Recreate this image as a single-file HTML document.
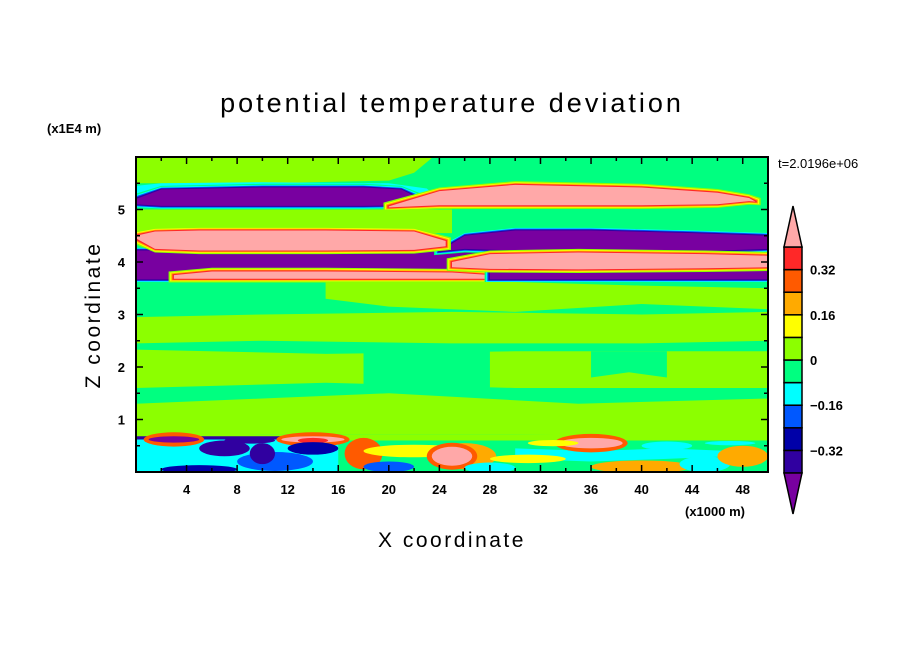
<!DOCTYPE html>
<html><head><meta charset="utf-8"><style>
body{margin:0;background:#fff;}
svg text{font-family:"Liberation Sans",sans-serif;fill:#000;}
</style></head><body>
<svg id="chart" width="904" height="654" viewBox="0 0 904 654" xmlns="http://www.w3.org/2000/svg">
<defs><clipPath id="clip"><rect x="136" y="157" width="632" height="315"/></clipPath></defs>
<text x="452" y="112" font-size="27" text-anchor="middle" letter-spacing="3">potential temperature deviation</text>
<text x="47" y="133" font-size="13" font-weight="bold">(x1E4 m)</text>
<text x="778" y="168" font-size="13">t=2.0196e+06</text>
<text x="685" y="516" font-size="13" font-weight="bold">(x1000 m)</text>
<text x="452" y="547" font-size="21" text-anchor="middle" letter-spacing="2.5">X coordinate</text>
<text transform="translate(100,315) rotate(-90)" font-size="21" text-anchor="middle" letter-spacing="2.5">Z coordinate</text>
<g id="field" clip-path="url(#clip)"></g>
<g id="axes"></g>
<g id="cbar"></g>
</svg>
<script>
// contour levels and colours
const levelBounds=[-0.4,-0.32,-0.24,-0.16,-0.08,0,0.08,0.16,0.24,0.32,0.4];
const levelColors=["#7800a0","#3000a0","#0000a8","#0058ff","#00ffff","#00ff80","#8cff00","#ffff00","#ffaa00","#ff5a00","#ff2828","#ffa8a8"];
const cbarLabels=["0.32","0.16","0","-0.16","-0.32"];
const cbarLabelValues=[0.32,0.16,0,-0.16,-0.32];
const xTicks=[4,8,12,16,20,24,28,32,36,40,44,48];
const yTicks=[1,2,3,4,5];
// horizontal bands: value, x knots, top z, bottom z
const bandValues=[0.04,-0.12,-0.5,0.5,0.04,-0.5,-0.5,-0.5,0.5,0.5,-0.5,0.5,0.04,0.04,0.04,0.04,-0.04,-0.04,0.04,-0.12,-0.12,-0.36];
const bandX=[
[0,10,20,22,23.5],
[0,2,10,20,23,24],
[0,2,10,18,21,22.5],
[20,24,30,40,46,48.5,49],
[0,25,25],
[0,28,28,50,50],
[0,24,27,29],
[24,26,30,36,44,50],
[0,1.5,5,15,22,24.5],
[3,6,15,25,30],
[28,50],
[25,28,35,45,50],
[15,20,30,40,50],
[0,10,25,40,50],
[0,15,30,45,50],
[0,10,20,35,50],
[18,22,28],
[36,39,42],
[0,10,20,30,50],
[0,5,10,16],
[30,36,42,47],
[0,6,12,16]];
const bandTop=[
[6,6,6,6,6],
[5.45,5.5,5.52,5.5,5.4,5.2],
[5.2,5.38,5.42,5.42,5.38,5.2],
[5.06,5.35,5.47,5.42,5.32,5.22,5.15],
[5.0,5.0,4.95],
[4.22,4.22,3.9,3.9,3.9],
[4.22,4.22,4.2,4.1],
[4.2,4.5,4.6,4.6,4.55,4.5],
[4.5,4.58,4.6,4.6,4.58,4.4],
[3.75,3.82,3.82,3.8,3.72],
[3.85,3.85],
[4.0,4.15,4.18,4.15,4.12],
[3.62,3.62,3.62,3.55,3.5],
[2.95,3.0,3.05,3.0,3.05],
[2.33,2.25,2.3,2.3,2.3],
[1.3,1.4,1.5,1.3,1.4],
[2.3,2.3,2.3],
[2.3,2.3,2.3],
[0.75,0.72,0.72,0.72,0.75],
[0.62,0.62,0.62,0.62],
[0.45,0.4,0.45,0.4],
[0.68,0.68,0.68,0.68]];
const bandBot=[
[5.5,5.5,5.55,5.7,6],
[5.05,5.03,5.03,5.03,5.05,5.1],
[5.1,5.07,5.07,5.07,5.08,5.15],
[5.04,5.08,5.08,5.08,5.1,5.16,5.15],
[4.55,4.55,4.6],
[3.67,3.67,3.67,3.67,3.67],
[3.67,3.67,3.67,3.67],
[4.2,4.25,4.22,4.22,4.2,4.25],
[4.45,4.25,4.22,4.22,4.23,4.3],
[3.68,3.68,3.68,3.68,3.68],
[3.67,3.67],
[3.9,3.87,3.86,3.88,3.9],
[3.3,3.15,3.05,3.2,3.1],
[2.45,2.5,2.45,2.45,2.5],
[1.6,1.7,1.6,1.6,1.6],
[0.72,0.72,0.72,0.72,0.72],
[1.5,1.6,1.5],
[1.8,1.9,1.8],
[0.6,0.6,0.6,0.6,0.6],
[0,0,0,0],
[0.25,0.2,0.25,0.3],
[0.62,0.62,0.62,0.62]];
// bottom-layer blobs (centre x, centre z, half widths, value)
const blobX=[3,7,11,5,14,18,22,26,25,31,36,40,40,45,48,9,14,3,28,42,33,20,47,14,10];
const blobZ=[0.3,0.45,0.2,0.05,0.62,0.35,0.4,0.3,0.3,0.25,0.55,0.05,0.1,0.15,0.3,0.6,0.6,0.62,0.08,0.5,0.55,0.1,0.55,0.45,0.35];
const blobRx=[3,2,3,3,2.5,1.5,4,2.5,1.6,3,2.5,2.5,4,2,2,2,1.2,2,2,2,2,2,2,2,1];
const blobRz=[0.2,0.15,0.18,0.08,0.06,0.3,0.12,0.25,0.18,0.08,0.1,0.07,0.12,0.15,0.2,0.06,0.05,0.06,0.1,0.08,0.06,0.1,0.04,0.12,0.2];
const blobV=[-0.12,-0.36,-0.2,-0.28,0.5,0.28,0.12,0.2,0.5,0.12,0.5,0.5,0.2,-0.12,0.2,-0.36,0.36,-0.5,-0.12,-0.12,0.12,-0.2,-0.12,-0.28,-0.36];

const X0=136,X1=768,Y0=157,Y1=472;
const xs=v=>X0+(v/50)*(X1-X0);
const zs=v=>Y1-(v/6)*(Y1-Y0);
const NS="http://www.w3.org/2000/svg";
function colorOf(v){let i=0;while(i<levelBounds.length&&v>=levelBounds[i])i++;return levelColors[i];}
function mk(tag,attrs,parent){const e=document.createElementNS(NS,tag);for(const k in attrs)e.setAttribute(k,attrs[k]);parent.appendChild(e);return e;}
const field=document.getElementById('field');
let bg=mk('rect',{x:X0,y:Y0,width:X1-X0,height:Y1-Y0,fill:colorOf(-0.04)},field);


function bandPath(xk,tp,bt,pad){let d='';const n=xk.length;for(let i=0;i<n;i++)d+=(i?'L':'M')+xs(xk[i]-(i==0?pad*6:0)+(i==n-1?pad*6:0))+','+zs(tp[i]+pad);for(let i=n-1;i>=0;i--)d+='L'+xs(xk[i]-(i==0?pad*6:0)+(i==n-1?pad*6:0))+','+zs(bt[i]-pad);return d+'Z';}
bandValues.forEach((v,b)=>{
  if(Math.abs(v)>=0.4){
    const halo=v>0?[0.04,0.12,0.2,0.36]:[-0.04,-0.12,-0.2,-0.36];
    const pads=[0.07,0.05,0.035,0.02];
    halo.forEach((h,k)=>{const p=mk('path',{d:bandPath(bandX[b],bandTop[b],bandBot[b],pads[k]),fill:colorOf(h)},field);
      
      });
  }
  const p=mk('path',{d:bandPath(bandX[b],bandTop[b],bandBot[b],0),fill:colorOf(v)},field);
  
  
});
blobV.forEach((v,i)=>{
  if(Math.abs(v)>=0.4){const e=mk('ellipse',{cx:xs(blobX[i]),cy:zs(blobZ[i]),rx:xs(blobRx[i])-X0+5,ry:zs(0)-zs(blobRz[i])+4,fill:colorOf(0.3)},field);
    
    }
  const e=mk('ellipse',{cx:xs(blobX[i]),cy:zs(blobZ[i]),rx:xs(blobRx[i])-X0,ry:zs(0)-zs(blobRz[i]),fill:colorOf(v)},field);
  
  
});
let ln=mk('line',{x1:X0,x2:X1,y1:zs(2.36),y2:zs(2.36),stroke:colorOf(-0.04),'stroke-width':2},field);


// axes
const axes=document.getElementById('axes');
let fr=mk('rect',{x:X0,y:Y0,width:X1-X0,height:Y1-Y0,fill:'none',stroke:'#000','stroke-width':2},axes);


for(let v=2;v<50;v+=2){const maj=v%4==0;const L=maj?7:4;
  mk('line',{x1:xs(v),x2:xs(v),y1:Y1,y2:Y1-L,stroke:'#000','stroke-width':1.5},axes);
  mk('line',{x1:xs(v),x2:xs(v),y1:Y0,y2:Y0+L,stroke:'#000','stroke-width':1.5},axes);}
for(let v=0.5;v<6;v+=0.5){const maj=v%1==0;const L=maj?7:4;
  mk('line',{x1:X0,x2:X0+L,y1:zs(v),y2:zs(v),stroke:'#000','stroke-width':1.5},axes);
  mk('line',{x1:X1,x2:X1-L,y1:zs(v),y2:zs(v),stroke:'#000','stroke-width':1.5},axes);}
xTicks.forEach(v=>{const t=mk('text',{x:xs(v),y:Y1+22,'font-size':13,'font-weight':'bold','text-anchor':'middle'},axes);t.textContent=v;
  
  });
yTicks.forEach(v=>{const t=mk('text',{x:X0-11,y:zs(v)+5,'font-size':13,'font-weight':'bold','text-anchor':'end'},axes);t.textContent=v;
  
  });
// colorbar
const cb=document.getElementById('cbar');
const CX0=784,CX1=802,CTop=247,CH=22.6;
const cy=v=>CTop+(0.4-v)/0.08*CH;
for(let i=1;i<levelColors.length-1;i++){
  const r=mk('rect',{x:CX0,y:cy(levelBounds[i]),width:CX1-CX0,height:CH,fill:levelColors[i],stroke:'#000','stroke-width':1.5},cb);
  
  }
let tt=mk('polygon',{points:`${CX0},${CTop} ${CX1},${CTop} ${(CX0+CX1)/2},206`,fill:levelColors[11],stroke:'#000','stroke-width':1.5},cb);


const cbB=cy(-0.4);
let tb=mk('polygon',{points:`${CX0},${cbB} ${CX1},${cbB} ${(CX0+CX1)/2},514`,fill:levelColors[0],stroke:'#000','stroke-width':1.5},cb);


cbarLabels.forEach((s,i)=>{const t=mk('text',{x:810,y:cy(cbarLabelValues[i])+5,'font-size':13,'font-weight':'bold'},cb);t.textContent=s.replace('-','\u2212');
  
  });
</script>
</body></html>
